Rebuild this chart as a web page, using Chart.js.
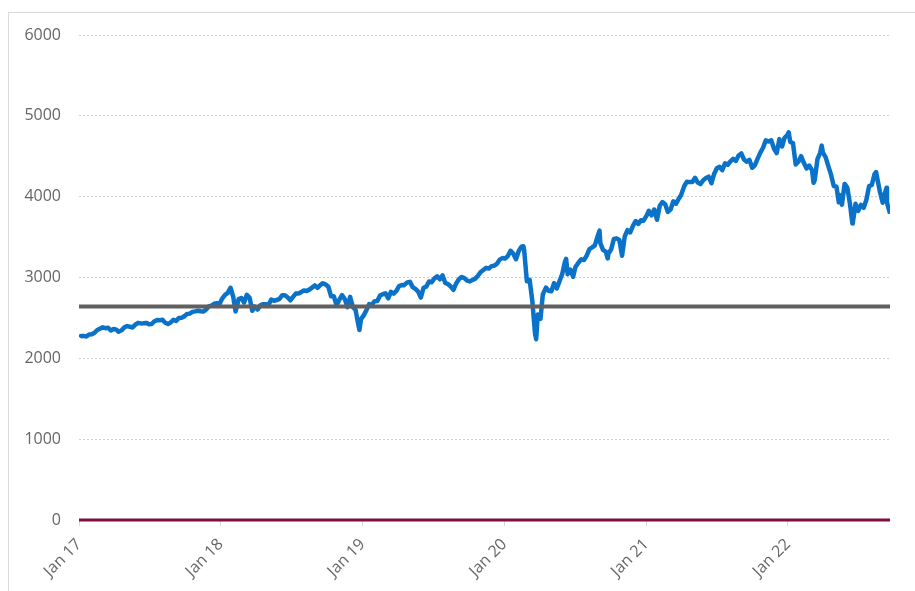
<!DOCTYPE html>
<html>
<head>
<meta charset="utf-8">
<script src="https://cdn.jsdelivr.net/npm/chart.js@4"></script>
<style>
  html, body { margin: 0; padding: 0; background: #fff; }
  #wrap { position: relative; width: 915px; height: 591px; }
  #frame { position: absolute; left: 8px; top: 12px; width: 920px; height: 600px;
           border-top: 1px solid #d9d9d9; border-left: 1px solid #d9d9d9; box-sizing: border-box; }
  canvas { position: absolute; left: 0; top: 0; }
</style>
</head>
<body>
<div id="wrap">
  <div id="frame"></div>
  <canvas id="c" width="915" height="591"></canvas>
</div>
<script>
// ---- data (weekly closes) ----
const dates = [
 '2017-01-03','2017-01-06','2017-01-13','2017-01-20','2017-01-27','2017-02-03','2017-02-10','2017-02-17','2017-02-24',
 '2017-03-03','2017-03-10','2017-03-17','2017-03-24','2017-03-31','2017-04-07','2017-04-13','2017-04-21','2017-04-28',
 '2017-05-05','2017-05-12','2017-05-19','2017-05-26','2017-06-02','2017-06-09','2017-06-16','2017-06-23','2017-06-30',
 '2017-07-07','2017-07-14','2017-07-21','2017-07-28','2017-08-04','2017-08-11','2017-08-18','2017-08-25','2017-09-01',
 '2017-09-08','2017-09-15','2017-09-22','2017-09-29','2017-10-06','2017-10-13','2017-10-20','2017-10-27','2017-11-03',
 '2017-11-10','2017-11-17','2017-11-24','2017-12-01','2017-12-08','2017-12-15','2017-12-22','2017-12-29',
 '2018-01-05','2018-01-12','2018-01-19','2018-01-26','2018-02-02','2018-02-08','2018-02-16','2018-02-23','2018-03-02',
 '2018-03-09','2018-03-16','2018-03-23','2018-03-29','2018-04-06','2018-04-13','2018-04-20','2018-04-27','2018-05-04',
 '2018-05-11','2018-05-18','2018-05-25','2018-06-01','2018-06-08','2018-06-15','2018-06-22','2018-06-29','2018-07-06',
 '2018-07-13','2018-07-20','2018-07-27','2018-08-03','2018-08-10','2018-08-17','2018-08-24','2018-08-31','2018-09-07',
 '2018-09-14','2018-09-21','2018-09-28','2018-10-05','2018-10-12','2018-10-19','2018-10-26','2018-11-02','2018-11-09',
 '2018-11-16','2018-11-23','2018-11-30','2018-12-07','2018-12-14','2018-12-21','2018-12-24','2018-12-28',
 '2019-01-04','2019-01-11','2019-01-18','2019-01-25','2019-02-01','2019-02-08','2019-02-15','2019-02-22','2019-03-01',
 '2019-03-08','2019-03-15','2019-03-22','2019-03-29','2019-04-05','2019-04-12','2019-04-18','2019-04-26','2019-05-03',
 '2019-05-10','2019-05-17','2019-05-24','2019-05-31','2019-06-07','2019-06-14','2019-06-21','2019-06-28','2019-07-05',
 '2019-07-12','2019-07-19','2019-07-26','2019-08-02','2019-08-09','2019-08-16','2019-08-23','2019-08-30','2019-09-06',
 '2019-09-13','2019-09-20','2019-09-27','2019-10-04','2019-10-11','2019-10-18','2019-10-25','2019-11-01','2019-11-08',
 '2019-11-15','2019-11-22','2019-11-29','2019-12-06','2019-12-13','2019-12-20','2019-12-27',
 '2020-01-03','2020-01-10','2020-01-17','2020-01-24','2020-01-31','2020-02-07','2020-02-14','2020-02-19','2020-02-21',
 '2020-02-28','2020-03-06','2020-03-13','2020-03-20','2020-03-23','2020-03-27','2020-04-03','2020-04-09','2020-04-17',
 '2020-04-24','2020-05-01','2020-05-08','2020-05-15','2020-05-22','2020-05-29','2020-06-05','2020-06-08','2020-06-12',
 '2020-06-19','2020-06-26','2020-07-02','2020-07-10','2020-07-17','2020-07-24','2020-07-31','2020-08-07','2020-08-14',
 '2020-08-21','2020-08-28','2020-09-02','2020-09-04','2020-09-11','2020-09-18','2020-09-23','2020-09-25','2020-10-02',
 '2020-10-09','2020-10-16','2020-10-23','2020-10-30','2020-11-06','2020-11-13','2020-11-20','2020-11-27','2020-12-04',
 '2020-12-11','2020-12-18','2020-12-24','2020-12-31',
 '2021-01-08','2021-01-15','2021-01-22','2021-01-29','2021-02-05','2021-02-12','2021-02-19','2021-02-26','2021-03-05',
 '2021-03-12','2021-03-19','2021-03-26','2021-04-01','2021-04-09','2021-04-16','2021-04-23','2021-04-30','2021-05-07',
 '2021-05-14','2021-05-21','2021-05-28','2021-06-04','2021-06-11','2021-06-18','2021-06-25','2021-07-02','2021-07-09',
 '2021-07-16','2021-07-23','2021-07-30','2021-08-06','2021-08-13','2021-08-20','2021-08-27','2021-09-03','2021-09-10',
 '2021-09-17','2021-09-24','2021-10-01','2021-10-08','2021-10-15','2021-10-22','2021-10-29','2021-11-05','2021-11-12',
 '2021-11-19','2021-11-26','2021-12-03','2021-12-10','2021-12-17','2021-12-23','2021-12-31',
 '2022-01-03','2022-01-07','2022-01-14','2022-01-21','2022-01-28','2022-02-04','2022-02-11','2022-02-18','2022-02-25',
 '2022-03-04','2022-03-08','2022-03-11','2022-03-18','2022-03-25','2022-03-29','2022-04-01','2022-04-08','2022-04-14',
 '2022-04-22','2022-04-29','2022-05-06','2022-05-12','2022-05-13','2022-05-20','2022-05-27','2022-06-03','2022-06-10',
 '2022-06-16','2022-06-17','2022-06-24','2022-07-01','2022-07-08','2022-07-15','2022-07-22','2022-07-29','2022-08-05',
 '2022-08-12','2022-08-16','2022-08-19','2022-08-26','2022-09-02','2022-09-09','2022-09-12','2022-09-13','2022-09-16',
 '2022-09-21'
];
const index = [
 2258,2277,2275,2271,2295,2297,2316,2351,2367,
 2383,2373,2378,2344,2363,2355,2329,2349,2384,
 2399,2391,2382,2416,2439,2432,2433,2438,2423,
 2425,2459,2473,2472,2476,2441,2426,2443,2477,
 2461,2500,2502,2519,2549,2553,2575,2581,2588,
 2582,2579,2602,2642,2652,2675,2683,2674,
 2743,2786,2810,2873,2762,2581,2732,2747,2691,
 2786,2752,2588,2641,2604,2656,2670,2670,2663,
 2728,2713,2721,2735,2779,2780,2755,2718,2760,
 2801,2802,2819,2840,2833,2850,2875,2902,2872,
 2905,2930,2914,2885,2767,2768,2658,2723,2781,
 2736,2633,2760,2633,2600,2417,2351,2486,
 2532,2596,2671,2665,2707,2708,2776,2793,2804,
 2743,2822,2801,2834,2893,2907,2905,2940,2946,
 2881,2860,2826,2752,2873,2887,2950,2942,2990,
 3014,2977,3026,2932,2919,2889,2847,2926,2979,
 3007,2992,2962,2952,2970,2986,3023,3067,3093,
 3120,3110,3141,3146,3169,3221,3240,
 3235,3265,3330,3295,3226,3328,3380,3386,3338,
 2954,2972,2711,2305,2237,2541,2489,2790,2875,
 2837,2831,2930,2864,2955,3044,3194,3232,3041,
 3098,3009,3130,3185,3225,3216,3271,3351,3373,
 3397,3508,3580,3427,3341,3319,3237,3298,3348,
 3477,3484,3465,3270,3510,3585,3558,3638,3699,
 3663,3709,3703,3756,
 3825,3768,3841,3714,3887,3934,3907,3811,3842,
 3943,3913,3975,4020,4129,4185,4180,4181,4233,
 4174,4156,4204,4230,4247,4166,4281,4352,4370,
 4327,4412,4395,4437,4468,4442,4509,4535,4459,
 4433,4455,4357,4391,4471,4545,4605,4697,4683,
 4698,4595,4538,4712,4621,4725,4766,
 4797,4677,4663,4398,4432,4501,4419,4349,4385,
 4329,4171,4204,4463,4543,4632,4546,4488,4393,
 4272,4132,4123,3930,4024,3901,4158,4109,3901,
 3667,3675,3912,3825,3899,3863,3962,4130,4145,
 4280,4305,4228,4058,3924,4067,4110,3932,3873,
 3790
];
const refLevel = 2640;
const xStart = 2017;
const xEnd = 2022.72;
const tickYears = [2017, 2018, 2019, 2020, 2021, 2022];
const yTicks = [0, 1000, 2000, 3000, 4000, 5000, 6000];

// ---- helpers ----
function decYear(s) {
  const d = new Date(s + 'T00:00:00Z');
  const y = d.getUTCFullYear();
  const start = Date.UTC(y, 0, 1);
  return y + (d.getTime() - start) / (365 * 86400000);
}
const mainPts = dates.map((d, i) => ({ x: decYear(d), y: index[i] }));

const font = { family: "'Open Sans', 'Liberation Sans', sans-serif", size: 16 };

new Chart(document.getElementById('c'), {
  type: 'line',
  data: {
    datasets: [
      { data: [{ x: xStart, y: 0 }, { x: xEnd, y: 0 }], borderColor: '#7f0f3f', borderWidth: 3,
        pointRadius: 0, order: 3, clip: false },
      { data: [{ x: xStart, y: refLevel }, { x: xEnd, y: refLevel }], borderColor: '#606060', borderWidth: 4,
        pointRadius: 0, order: 1 },
      { data: mainPts, borderColor: '#0a72c8', borderWidth: 4.5, pointRadius: 0, tension: 0,
        borderJoinStyle: 'round', order: 2 }
    ]
  },
  options: {
    responsive: false,
    animation: false,
    layout: { padding: { left: 0, right: 25, top: 35, bottom: 0 } },
    plugins: { legend: { display: false }, tooltip: { enabled: false } },
    scales: {
      x: {
        type: 'linear', min: xStart, max: xEnd,
        afterBuildTicks: (s) => { s.ticks = tickYears.map(v => ({ value: v })); },
        afterFit: (s) => { s.height = 71; },
        ticks: {
          callback: (v) => 'Jan ' + String(v % 100).padStart(2, '0'),
          minRotation: 45, maxRotation: 45, color: '#666666', font: font, padding: 9
        },
        grid: { drawOnChartArea: false, drawTicks: true, tickLength: 6, color: '#d9d9d9' },
        border: { display: false }
      },
      y: {
        min: 0, max: 6000,
        afterBuildTicks: (s) => { s.ticks = yTicks.map(v => ({ value: v })); },
        afterFit: (s) => { s.width = 79; },
        ticks: { callback: (v) => String(v), color: '#666666', font: font, padding: 18 },
        grid: { drawTicks: false, color: (ctx) => ctx.tick && ctx.tick.value === 0 ? 'rgba(0,0,0,0)' : '#cfcfcf', lineWidth: 1 },
        border: { display: false, dash: [2, 2] }
      }
    }
  }
});
</script>
</body>
</html>
